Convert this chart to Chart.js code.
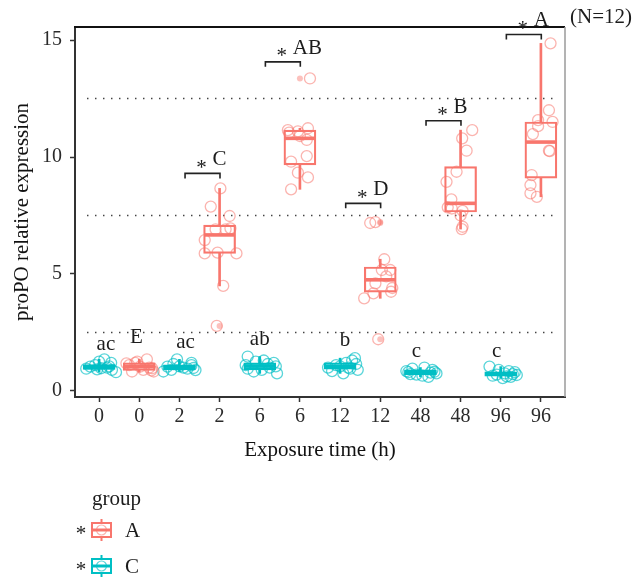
<!DOCTYPE html>
<html>
<head>
<meta charset="utf-8">
<script src="https://cdn.jsdelivr.net/npm/chart.js@4.4.1/dist/chart.umd.min.js"></script>
<style>
  html, body { margin: 0; padding: 0; background: #ffffff; }
  #wrap { width: 643px; height: 582px; position: relative; }
</style>
</head>
<body>
<div id="wrap"><canvas id="chart" width="643" height="582"></canvas></div>
<script>
// x slots: C and A groups alternate for each exposure time
const timeLabels = ['0', '0', '2', '2', '6', '6', '12', '12', '48', '48', '96', '96'];
const slotsC = [0, 2, 4, 6, 8, 10];
const slotsA = [1, 3, 5, 7, 9, 11];

// box statistics, group A
const aLow    = [0.80, 4.49,  8.62, 3.96,  6.92,  8.30];
const aQ1     = [0.88, 5.88,  9.66, 4.22,  7.65,  9.10];
const aMedian = [1.04, 6.67, 10.80, 4.75,  8.02, 10.64];
const aQ3     = [1.20, 7.09, 11.15, 5.30,  9.59, 11.50];
const aHigh   = [1.35, 8.66, 11.23, 5.63, 11.15, 14.86];

// box statistics, group C
const cLow    = [0.80, 0.83, 0.75, 0.75, 0.60, 0.55];
const cQ1     = [0.92, 0.90, 0.90, 0.93, 0.70, 0.63];
const cMedian = [1.00, 0.99, 1.06, 1.04, 0.79, 0.72];
const cQ3     = [1.13, 1.12, 1.20, 1.20, 0.90, 0.82];
const cHigh   = [1.35, 1.35, 1.47, 1.40, 1.00, 1.04];

// individual measurements (N=12 per box) and their horizontal jitter
const aValues = [
  [1.18, 0.83, 1.04, 1.35, 0.97, 0.83, 1.20, 1.10, 0.90, 1.00, 1.25, 0.88],
  [8.66, 7.88, 7.48, 6.91, 6.91, 6.95, 6.45, 5.88, 5.91, 5.88, 4.49, 2.78],
  [13.36, 11.15, 11.04, 11.23, 10.73, 10.04, 9.80, 9.33, 9.13, 8.62, 10.90, 11.10],
  [7.18, 7.22, 5.63, 5.17, 5.17, 3.96, 4.17, 4.24, 2.21, 4.40, 4.60, 4.90],
  [11.15, 10.80, 10.27, 9.37, 8.94, 8.19, 7.85, 7.80, 7.70, 7.50, 7.02, 6.92],
  [14.86, 12.00, 11.50, 11.58, 11.32, 10.98, 10.27, 10.25, 9.23, 8.80, 8.45, 8.30]
];
const aJitter = [
  [-0.32, -0.18, 0.02, 0.19, 0.32, 0.36, -0.10, -0.25, 0.10, 0.25, -0.05, 0.30],
  [0.02, -0.22, 0.25, -0.10, 0.15, 0.27, -0.37, -0.37, -0.05, 0.42, 0.09, -0.07],
  [0.25, -0.30, -0.27, 0.20, 0.17, 0.17, -0.22, -0.05, 0.20, -0.22, 0.00, -0.05],
  [-0.25, -0.12, 0.10, 0.04, 0.25, -0.40, -0.17, 0.27, -0.05, 0.30, -0.12, 0.15],
  [0.29, 0.04, 0.15, -0.10, -0.35, -0.23, -0.32, -0.22, 0.05, 0.00, 0.05, 0.03],
  [0.24, 0.20, 0.29, -0.07, -0.07, -0.20, 0.20, 0.22, -0.23, -0.26, -0.26, -0.10]
];
const cValues = [
  [1.04, 1.35, 1.20, 0.80, 0.97, 0.95, 1.10, 1.00, 0.90, 1.25, 1.05, 0.92],
  [0.83, 1.35, 1.20, 0.89, 1.04, 1.00, 0.95, 1.10, 1.15, 0.90, 1.05, 0.98],
  [1.47, 1.20, 0.75, 0.83, 1.30, 1.10, 0.90, 1.00, 1.25, 0.95, 1.05, 1.15],
  [1.40, 0.75, 0.90, 1.30, 1.10, 0.95, 1.00, 1.20, 1.05, 0.85, 1.15, 1.00],
  [0.80, 0.70, 0.90, 1.00, 0.65, 0.75, 0.85, 0.60, 0.78, 0.95, 0.72, 0.82],
  [1.04, 0.70, 0.60, 0.75, 0.80, 0.55, 0.65, 0.72, 0.85, 0.90, 0.68, 0.62]
];
const cJitter = [
  [-0.22, 0.13, 0.30, 0.42, 0.05, -0.32, -0.10, 0.20, 0.32, 0.00, 0.25, -0.05],
  [-0.40, -0.06, 0.30, 0.40, -0.30, 0.10, 0.20, 0.30, -0.15, -0.20, 0.00, 0.35],
  [-0.30, 0.35, 0.43, -0.15, 0.10, -0.35, 0.05, 0.25, -0.10, -0.30, 0.40, 0.20],
  [0.37, 0.08, 0.44, 0.30, -0.10, 0.25, -0.30, 0.15, 0.00, -0.20, 0.40, 0.20],
  [-0.30, -0.10, 0.30, 0.10, 0.05, 0.40, -0.35, 0.20, 0.25, -0.20, -0.25, 0.35],
  [-0.28, -0.10, 0.25, 0.10, 0.35, 0.05, -0.20, 0.30, 0.20, -0.05, 0.40, 0.15]
];

// boxplot outliers (group A)
const aOutlierSlots  = [3, 5, 7, 7, 7];
const aOutlierValues = [2.78, 13.36, 7.18, 7.22, 2.21];

// letters of the multiple comparison within each group
const groupLetters = ['ac', 'E', 'ac', 'ab', 'b', 'c', 'c'];
const letterSlots  = [0, 1, 2, 4, 6, 8, 10];

// A vs C significance brackets
const sigLetters = ['C', 'AB', 'D', 'B', 'A'];
const sigSlots   = [3, 5, 7, 9, 11];
const sigHeights = [9.30, 14.07, 8.02, 11.55, 15.24];

const refLines = [2.5, 7.5, 12.5];
const yTicks = [0, 5, 10, 15];

const A_COLOR = '#F8766D';
const C_COLOR = '#00BFC4';
const A_SOFT = 'rgba(248,118,109,0.55)';
const C_SOFT = 'rgba(0,191,196,0.65)';
const SERIF = '"Liberation Serif", "Times New Roman", serif';

function rangeData(slots, lo, hi) {
  return slots.map((s, i) => ({ x: s, y: [lo[i], hi[i]] }));
}
function pointAt(slots, vals) {
  return slots.map((s, i) => ({ x: s, y: vals[i] }));
}
function jittered(slots, values, offsets) {
  const out = [];
  slots.forEach((s, i) => values[i].forEach((v, j) => out.push({ x: s + offsets[i][j], y: v })));
  return out;
}

// label placement (slot shift, baseline value) for the group letters
const letterPlacement = [
  { dx: 0.17, y: 1.75 }, { dx: -0.07, y: 2.05 }, { dx: 0.15, y: 1.85 },
  { dx: 0.00, y: 1.95 }, { dx: 0.12, y: 1.90 }, { dx: -0.10, y: 1.45 }, { dx: -0.10, y: 1.45 }
];

function drawStar(ctx, cx, cy) {
  ctx.save();
  ctx.textAlign = 'center';
  ctx.textBaseline = 'alphabetic';
  ctx.fillText('*', cx, cy + 10.5);
  ctx.restore();
}

const decor = {
  id: 'decor',
  beforeDatasetsDraw(chart) {
    const { ctx, scales: { x, y } } = chart;
    ctx.save();
    ctx.strokeStyle = '#3c3c3c';
    ctx.lineWidth = 1.4;
    ctx.setLineDash([1.4, 6.6]);
    refLines.forEach(v => {
      const py = y.getPixelForValue(v);
      ctx.beginPath();
      ctx.moveTo(x.getPixelForValue(-0.3), py);
      ctx.lineTo(x.getPixelForValue(11.45), py);
      ctx.stroke();
    });
    ctx.restore();
  },
  afterDraw(chart) {
    const { ctx, chartArea: area, scales: { x, y } } = chart;
    ctx.save();

    // panel frame: top and right edges
    ctx.strokeStyle = '#111111';
    ctx.lineWidth = 2;
    ctx.beginPath();
    ctx.moveTo(area.left - 1, area.top);
    ctx.lineTo(area.right, area.top);
    ctx.stroke();
    ctx.strokeStyle = '#9a9a9a';
    ctx.lineWidth = 1.5;
    ctx.beginPath();
    ctx.moveTo(area.right, area.top);
    ctx.lineTo(area.right, area.bottom);
    ctx.stroke();

    ctx.fillStyle = '#1c1c1c';
    ctx.font = '21px ' + SERIF;

    // group letters
    ctx.textAlign = 'center';
    ctx.textBaseline = 'alphabetic';
    groupLetters.forEach((t, i) => {
      const p = letterPlacement[i];
      ctx.fillText(t, x.getPixelForValue(letterSlots[i] + p.dx), y.getPixelForValue(p.y));
    });

    // significance brackets
    ctx.strokeStyle = '#222222';
    ctx.lineWidth = 1.6;
    sigSlots.forEach((s, i) => {
      const x0 = x.getPixelForValue(s - 0.86);
      const x1 = x.getPixelForValue(s + 0.01);
      const py = y.getPixelForValue(sigHeights[i]);
      ctx.beginPath();
      ctx.moveTo(x0, py + 5);
      ctx.lineTo(x0, py);
      ctx.lineTo(x1, py);
      ctx.lineTo(x1, py + 5);
      ctx.stroke();
      const mid = (x0 + x1) / 2;
      const base = py - 8;
      drawStar(ctx, mid - 1, base - 2);
      ctx.textAlign = 'left';
      ctx.fillText(sigLetters[i], mid + 10, base);
    });

    // sample size note
    ctx.textAlign = 'left';
    ctx.fillText('(N=12)', 570, 23);

    // legend
    ctx.fillText('group', 92, 505);
    const rows = [
      { label: 'A', color: A_COLOR, soft: A_SOFT, cy: 530 },
      { label: 'C', color: C_COLOR, soft: C_SOFT, cy: 566 }
    ];
    rows.forEach(r => {
      ctx.fillStyle = '#1c1c1c';
      drawStar(ctx, 81, r.cy - 1);
      const cx = 101.5;
      ctx.strokeStyle = r.color;
      ctx.lineWidth = 2;
      ctx.beginPath();
      ctx.moveTo(cx, r.cy - 11); ctx.lineTo(cx, r.cy - 7);
      ctx.moveTo(cx, r.cy + 7); ctx.lineTo(cx, r.cy + 11);
      ctx.stroke();
      ctx.strokeRect(92, r.cy - 7, 19, 14);
      ctx.lineWidth = 3;
      ctx.beginPath();
      ctx.moveTo(92.5, r.cy); ctx.lineTo(110.5, r.cy);
      ctx.stroke();
      ctx.strokeStyle = r.soft;
      ctx.lineWidth = 1.2;
      ctx.beginPath();
      ctx.arc(cx, r.cy, 5, 0, Math.PI * 2);
      ctx.stroke();
      ctx.fillStyle = '#1c1c1c';
      ctx.textAlign = 'left';
      ctx.textBaseline = 'middle';
      ctx.fillText(r.label, 125, r.cy + 1);
      ctx.textBaseline = 'alphabetic';
    });
    ctx.restore();
  }
};

const boxStyle = (color) => ({
  barThickness: 32, grouped: false, borderSkipped: false,
  borderWidth: 2.2, borderColor: color, backgroundColor: '#ffffff'
});
const whiskerStyle = (color) => ({
  barThickness: 2, grouped: false, borderSkipped: false,
  borderWidth: 0, backgroundColor: color
});
const medianStyle = (color) => ({
  showLine: false, pointStyle: 'line', pointRadius: 15,
  pointBorderWidth: 3.6, pointBorderColor: color, pointBackgroundColor: color
});
const pointStyle = (soft) => ({
  showLine: false, pointStyle: 'circle', pointRadius: 5.5,
  pointBorderWidth: 1.3, pointBorderColor: soft, pointBackgroundColor: 'rgba(0,0,0,0)'
});

new Chart(document.getElementById('chart'), {
  type: 'bar',
  data: {
    datasets: [
      Object.assign({ type: 'bar', label: 'A whiskers', order: 6, data: rangeData(slotsA, aLow, aHigh) }, whiskerStyle(A_COLOR)),
      Object.assign({ type: 'bar', label: 'C whiskers', order: 6, data: rangeData(slotsC, cLow, cHigh) }, whiskerStyle(C_COLOR)),
      Object.assign({ type: 'bar', label: 'A', order: 5, data: rangeData(slotsA, aQ1, aQ3) }, boxStyle(A_COLOR)),
      Object.assign({ type: 'bar', label: 'C', order: 5, data: rangeData(slotsC, cQ1, cQ3) }, boxStyle(C_COLOR)),
      Object.assign({ type: 'scatter', label: 'A median', order: 4, data: pointAt(slotsA, aMedian) }, medianStyle(A_COLOR)),
      Object.assign({ type: 'scatter', label: 'C median', order: 4, data: pointAt(slotsC, cMedian) }, medianStyle(C_COLOR)),
      {
        type: 'scatter', label: 'A outliers', order: 3,
        data: aOutlierSlots.map((s, i) => ({ x: s, y: aOutlierValues[i] })),
        pointRadius: 3, pointBorderWidth: 0, pointBackgroundColor: 'rgba(248,118,109,0.45)'
      },
      Object.assign({ type: 'scatter', label: 'A points', order: 2, data: jittered(slotsA, aValues, aJitter) }, pointStyle(A_SOFT)),
      Object.assign({ type: 'scatter', label: 'C points', order: 2, data: jittered(slotsC, cValues, cJitter) }, pointStyle(C_SOFT))
    ]
  },
  options: {
    responsive: false,
    animation: false,
    events: [],
    layout: { padding: { left: 0, right: 78, top: 27, bottom: 105 } },
    plugins: { legend: { display: false }, tooltip: { enabled: false } },
    scales: {
      x: {
        type: 'linear', min: -0.6, max: 11.6, offset: false,
        afterBuildTicks: s => { s.ticks = timeLabels.map((_, i) => ({ value: i })); },
        afterFit: s => { s.height = 80; },
        ticks: {
          autoSkip: false, maxRotation: 0, minRotation: 0, padding: 3,
          color: '#2a2a2a', font: { family: SERIF, size: 20 },
          callback: v => timeLabels[Math.round(v)]
        },
        grid: { display: true, drawOnChartArea: false, drawTicks: true, tickLength: 5, tickColor: '#333333', tickWidth: 1.5, offset: false },
        border: { display: true, color: '#333333', width: 2 },
        title: { display: true, text: 'Exposure time (h)', color: '#111111', font: { family: SERIF, size: 21 }, padding: { top: 0, bottom: 14 } }
      },
      y: {
        type: 'linear', min: -0.26, max: 15.56,
        afterBuildTicks: s => { s.ticks = yTicks.map(v => ({ value: v })); },
        afterFit: s => { s.width = 75; },
        ticks: { padding: 8, color: '#2a2a2a', font: { family: SERIF, size: 20 } },
        grid: { display: true, drawOnChartArea: false, drawTicks: true, tickLength: 5, tickColor: '#333333', tickWidth: 1.5 },
        border: { display: true, color: '#333333', width: 2 },
        title: { display: true, text: 'proPO relative expression', color: '#111111', font: { family: SERIF, size: 21 }, padding: { top: 10, bottom: 0 } }
      }
    }
  },
  plugins: [decor]
});
</script>
</body>
</html>
